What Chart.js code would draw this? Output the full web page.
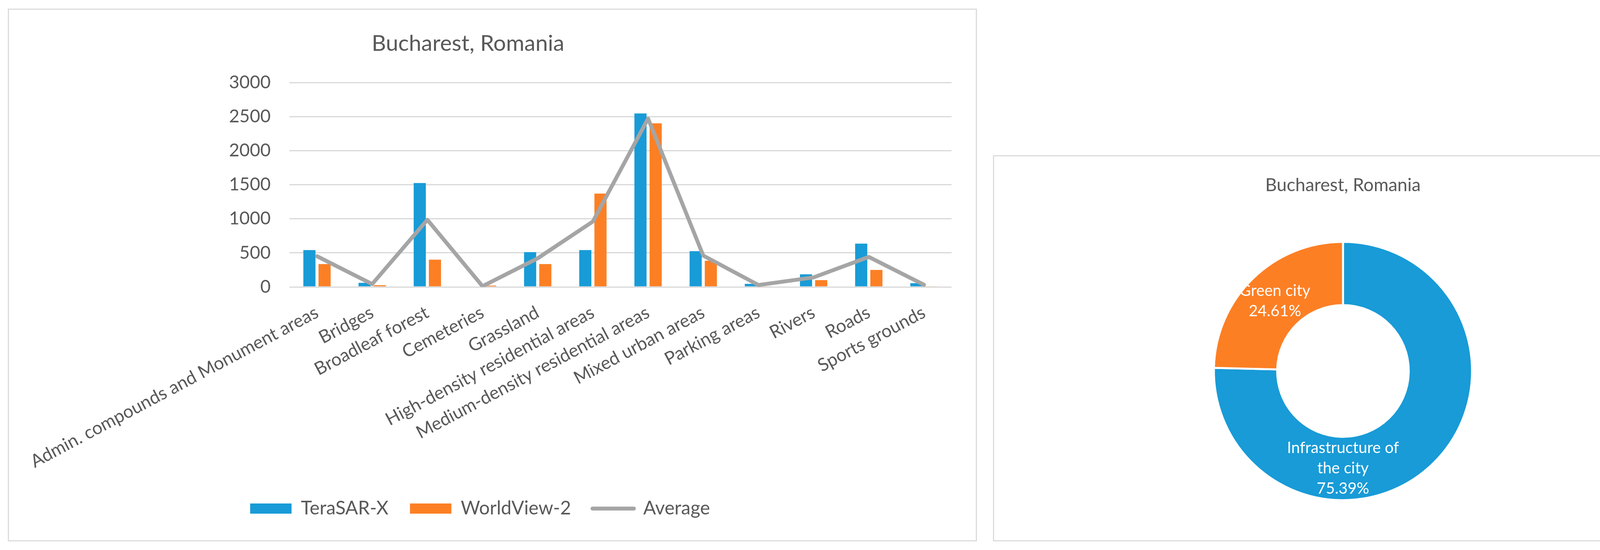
<!DOCTYPE html>
<html>
<head>
<meta charset="utf-8">
<script src="https://cdn.jsdelivr.net/npm/chart.js@4.4.1/dist/chart.umd.min.js"></script>
<style>
  html, body { margin: 0; padding: 0; background: #fff; }
  body { width: 4354px; height: 1407px; position: relative; overflow: hidden; }
  .panel { position: absolute; border: 3px solid #dcdcdc; box-sizing: border-box; }
  canvas { position: absolute; }
</style>
</head>
<body>
<div class="panel" style="left:20px;top:22px;width:2481px;height:1363px"></div>
<canvas id="bars" style="left:22px;top:24px;width:2478px;height:1359px" width="2478" height="1359"></canvas>
<div class="panel" style="left:2542px;top:397px;width:1792px;height:988px"></div>
<canvas id="donut" style="left:2544px;top:399px;width:1788px;height:984px" width="1788" height="984"></canvas>
<script>
// categories and values
const chartTitle = 'Bucharest, Romania';
const categories = [
  'Admin. compounds and Monument areas', 'Bridges', 'Broadleaf forest', 'Cemeteries',
  'Grassland', 'High-density residential areas', 'Medium-density residential areas',
  'Mixed urban areas', 'Parking areas', 'Rivers', 'Roads', 'Sports grounds'
];
const terraSarX  = [540, 60, 1525, 0, 510, 540, 2545, 525, 45, 185, 635, 55];
const worldView2 = [335, 25, 400, 20, 335, 1370, 2400, 385, 10, 100, 250, 10];
const average    = [450, 42, 985, 10, 420, 960, 2470, 460, 28, 140, 440, 32];

const donutLabels = ['Infrastructure of the city', 'Green city'];
const donutShares = [75.39, 24.61];

const BLUE = '#189bd7';
const ORANGE = '#fd7f24';
const GREY = '#a5a5a5';
const TEXT = '#595959';
const FONT = 'Lato, "Open Sans", sans-serif';

Chart.defaults.font.family = FONT;
Chart.defaults.color = TEXT;

// title drawn at its own spot (Excel centres it off the plot)
const fixedTitle = {
  id: 'fixedTitle',
  afterDraw(chart, args, opts) {
    const ctx = chart.ctx;
    ctx.save();
    ctx.font = opts.size + 'px ' + FONT;
    ctx.fillStyle = TEXT;
    ctx.textAlign = 'center';
    ctx.textBaseline = 'middle';
    ctx.fillText(opts.text, opts.x, opts.y);
    ctx.restore();
  }
};

new Chart(document.getElementById('bars'), {
  type: 'bar',
  plugins: [fixedTitle],
  data: {
    labels: categories,
    datasets: [
      { label: 'TeraSAR-X', data: terraSarX, backgroundColor: BLUE, borderWidth: 0, order: 1 },
      { label: 'WorldView-2', data: worldView2, backgroundColor: ORANGE, borderWidth: 0, order: 1 },
      {
        type: 'line', label: 'Average', data: average,
        borderColor: GREY, backgroundColor: GREY, borderWidth: 10,
        borderCapStyle: 'round', borderJoinStyle: 'round',
        pointRadius: 0, tension: 0, fill: false, order: 0
      }
    ]
  },
  options: {
    responsive: false,
    devicePixelRatio: 1,
    animation: false,
    categoryPercentage: 0.55,
    barPercentage: 0.8,
    layout: { padding: { top: 187, right: 64, bottom: 48, left: 0 } },
    plugins: {
      fixedTitle: { text: chartTitle, x: 1176, y: 88, size: 57 },
      title: { display: false },
      tooltip: { enabled: false },
      legend: {
        position: 'bottom',
        labels: {
          font: { size: 48 },
          color: TEXT,
          usePointStyle: true,
          pointStyleWidth: 106,
          boxHeight: 26,
          padding: 55,
          sort: (a, b) => a.datasetIndex - b.datasetIndex,
          generateLabels(chart) {
            const items = Chart.defaults.plugins.legend.labels.generateLabels(chart);
            items.forEach(item => {
              const ds = chart.data.datasets[item.datasetIndex];
              if (ds.type === 'line') {
                item.pointStyle = 'line';
                item.lineWidth = 10;
                item.lineCap = 'round';
                item.strokeStyle = GREY;
              } else {
                item.pointStyle = 'rect';
                item.lineWidth = 0;
              }
            });
            return items;
          }
        }
      }
    },
    scales: {
      x: {
        grid: { display: false },
        border: { display: false },
        ticks: {
          autoSkip: false,
          minRotation: 28,
          maxRotation: 28,
          padding: 30,
          font: { size: 46 },
          color: TEXT
        },
        afterFit(scale) { scale.height = 488; }
      },
      y: {
        min: 0,
        max: 3000,
        grid: { color: '#d9d9d9', lineWidth: 3, drawTicks: false },
        border: { display: false },
        ticks: {
          stepSize: 500,
          padding: 48,
          font: { size: 46 },
          color: TEXT,
          callback: v => String(v)
        },
        afterFit(scale) { scale.width = 712; }
      }
    }
  }
});

// word wrap for the slice labels
function wrapText(ctx, text, maxWidth) {
  const words = text.split(' ');
  const lines = [];
  let line = '';
  words.forEach(w => {
    const test = line ? line + ' ' + w : w;
    if (line && ctx.measureText(test).width > maxWidth) {
      lines.push(line);
      line = w;
    } else {
      line = test;
    }
  });
  if (line) lines.push(line);
  return lines;
}

const arcLabels = {
  id: 'arcLabels',
  afterDatasetsDraw(chart) {
    const ctx = chart.ctx;
    const meta = chart.getDatasetMeta(0);
    const values = chart.data.datasets[0].data;
    const total = values.reduce((a, b) => a + b, 0);
    ctx.save();
    ctx.font = '40px ' + FONT;
    ctx.fillStyle = '#ffffff';
    ctx.textAlign = 'center';
    ctx.textBaseline = 'middle';
    meta.data.forEach((arc, i) => {
      const p = arc.getProps(['x', 'y', 'startAngle', 'endAngle', 'innerRadius', 'outerRadius'], true);
      let a = (p.startAngle + p.endAngle) / 2;
      // big slice: Excel puts the label at the bottom
      if (p.startAngle < Math.PI / 2 && p.endAngle > Math.PI / 2) a = Math.PI / 2;
      const r = (p.innerRadius + p.outerRadius) / 2;
      const cx = p.x + Math.cos(a) * r;
      const cy = p.y + Math.sin(a) * r;
      const lines = wrapText(ctx, chart.data.labels[i], 330);
      lines.push((values[i] / total * 100).toFixed(2) + '%');
      const lh = 52;
      lines.forEach((t, k) => ctx.fillText(t, cx, cy + (k - (lines.length - 1) / 2) * lh));
    });
    ctx.restore();
  }
};

new Chart(document.getElementById('donut'), {
  type: 'doughnut',
  plugins: [arcLabels],
  data: {
    labels: donutLabels,
    datasets: [{
      data: donutShares,
      backgroundColor: [BLUE, ORANGE],
      borderColor: '#ffffff',
      borderWidth: 5
    }]
  },
  options: {
    responsive: false,
    devicePixelRatio: 1,
    animation: false,
    cutout: '51%',
    layout: { padding: { top: 0, right: 0, bottom: 101, left: 0 } },
    plugins: {
      legend: { display: false },
      tooltip: { enabled: false },
      title: {
        display: true,
        text: chartTitle,
        color: TEXT,
        font: { size: 46, weight: 'normal' },
        padding: { top: 48, bottom: 114 }
      }
    }
  }
});
</script>
</body>
</html>
